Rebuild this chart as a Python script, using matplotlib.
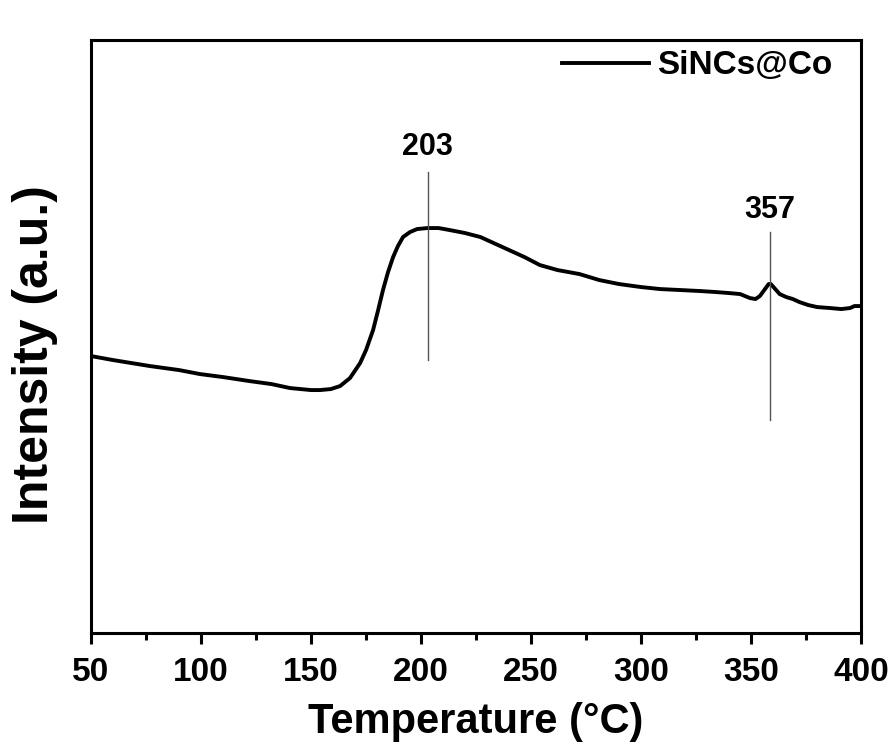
import matplotlib.pyplot as plt
import numpy as np

# DSC-like curve of SiNCs@Co (arbitrary units)
temp = [50, 60, 76.8, 90, 99.5, 110, 122, 132, 140.5, 150, 154, 159, 163.2,
        167.7, 172.3, 175, 178.2, 180.5, 182.7, 185, 187.3, 189.5, 191.8,
        195, 198.2, 203, 208, 213, 220, 227, 233, 240, 247, 254, 262, 272,
        281, 290, 300, 308.6, 318, 327, 334, 340, 345, 349.5, 352, 354,
        356, 358, 359, 361, 363, 366, 369, 372, 376, 380, 386, 391, 395,
        397, 400]
intensity = [277, 273, 267, 263, 259, 256, 252, 249, 245, 243, 243, 244, 247,
             255, 270, 283, 303, 323, 343, 361, 376, 387, 396,
             401, 404, 405, 405, 403, 400, 396, 390, 383, 376, 368, 363, 359,
             353, 349, 346, 344, 343, 342, 341, 340, 339, 335, 334, 337,
             343, 349, 349, 344, 339, 336, 334, 331, 328, 326, 325, 324, 325,
             327, 327]

peak_pos = [203, 358.5]
peak_labels = ['203', '357']
peak_span = [(273, 461), (213, 401)]   # bottom/top of the marker lines
label_y = [478, 415]

plt.rcParams['font.family'] = ['Liberation Sans', 'DejaVu Sans']
plt.rcParams['font.weight'] = 'bold'

fig = plt.figure(figsize=(8.96, 7.51), dpi=100)
ax = fig.add_axes([0.1016, 0.157, 0.8594, 0.7897])

ax.plot(temp, intensity, color='black', lw=2.8, label='SiNCs@Co')

for x, lab, (y0, y1), ly in zip(peak_pos, peak_labels, peak_span, label_y):
    ax.plot([x, x], [y0, y1], color='#555555', lw=1.0)
    ax.text(x, ly, lab, ha='center', va='baseline', fontsize=22, fontweight='bold')

ax.set_xlim(50, 400)
ax.set_ylim(0, 593)
ax.set_xticks(np.arange(50, 401, 50))
ax.set_xticks(np.arange(75, 400, 50), minor=True)
ax.set_yticks([])
ax.tick_params(axis='x', which='major', direction='out', length=8, width=2.2,
               labelsize=24, pad=9)
ax.tick_params(axis='x', which='minor', direction='out', length=5, width=2.2)
for lab in ax.get_xticklabels():
    lab.set_fontweight('bold')
for sp in ax.spines.values():
    sp.set_linewidth(2.2)

ax.set_xlabel('Temperature (°C)', fontsize=30, fontweight='bold', labelpad=10)
ax.set_ylabel('Intensity (a.u.)', fontsize=36, fontweight='bold')
ax.yaxis.set_label_coords(-0.043, 0.47)

ax.legend(loc='upper right', frameon=False, handlelength=2.6,
          handletextpad=0.25, borderaxespad=0, bbox_to_anchor=(0.98, 1.005),
          prop={'weight': 'bold', 'size': 24})

fig.savefig('out.png', dpi=100)
